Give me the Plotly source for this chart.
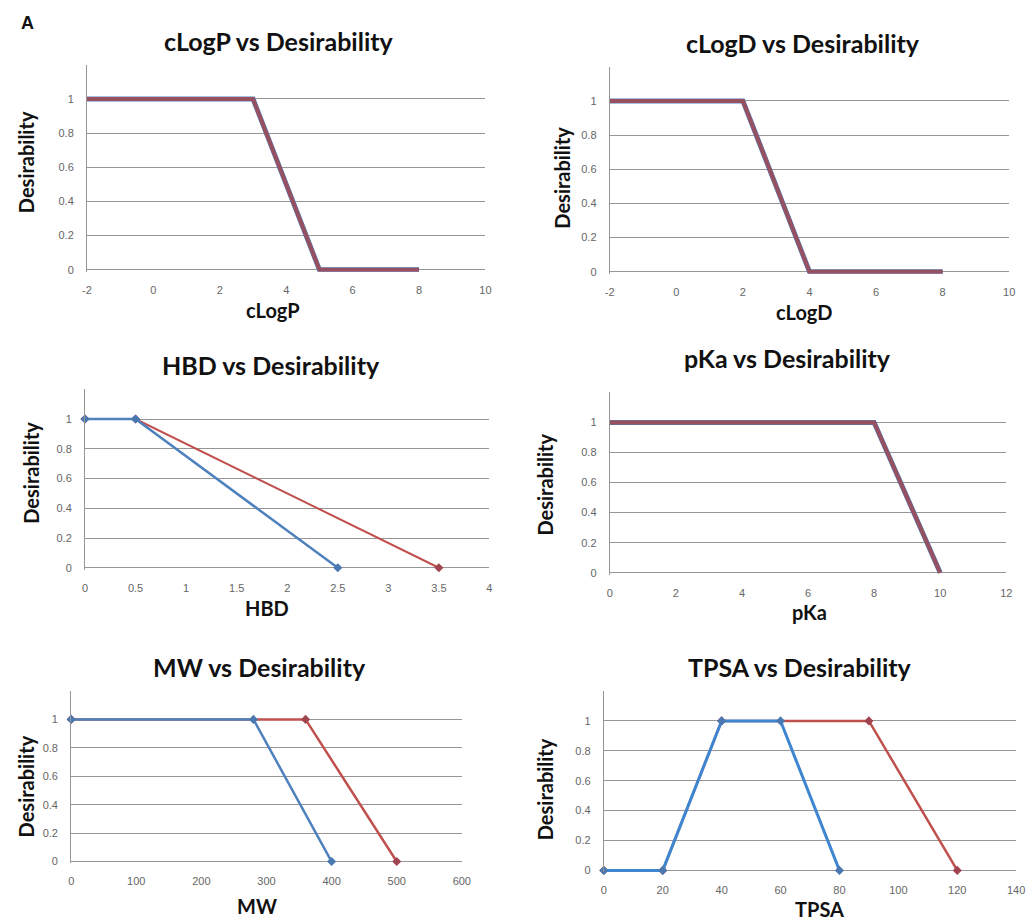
import plotly.graph_objects as go

# Page body has an 8px margin: draw on a canvas placed at (8, 8) that reaches the window edge
W, H = 1028, 915
OFF = 8

# ---------------- data ----------------
clogp_x = [-2, 3, 5, 8]
clogp_blue = [1, 1, 0, 0]
clogp_red = [1, 1, 0, 0]

clogd_x = [-2, 2, 4, 8]
clogd_blue = [1, 1, 0, 0]
clogd_red = [1, 1, 0, 0]

hbd_blue_x = [0, 0.5, 2.5]
hbd_blue_y = [1, 1, 0]
hbd_red_x = [0, 0.5, 3.5]
hbd_red_y = [1, 1, 0]

pka_x = [0, 6, 8, 10]
pka_blue = [1, 1, 1, 0]
pka_red = [1, 1, 1, 0]

mw_blue_x = [0, 280, 400]
mw_blue_y = [1, 1, 0]
mw_red_x = [0, 360, 500]
mw_red_y = [1, 1, 0]

tpsa_blue_x = [0, 20, 40, 60, 80]
tpsa_blue_y = [0, 0, 1, 1, 0]
tpsa_red_x = [0, 20, 40, 90, 120]
tpsa_red_y = [0, 0, 1, 1, 0]

y_ticks = [0, 0.2, 0.4, 0.6, 0.8, 1, 1.2]
y_ticktext = ["0", "0.2", "0.4", "0.6", "0.8", "1", ""]

logx_ticks = [-2, 0, 2, 4, 6, 8, 10]
logx_text = ["-2", "0", "2", "4", "6", "8", "10"]
hbd_ticks = [0, 0.5, 1, 1.5, 2, 2.5, 3, 3.5, 4]
hbd_text = ["0", "0.5", "1", "1.5", "2", "2.5", "3", "3.5", "4"]
pka_ticks = [0, 2, 4, 6, 8, 10, 12]
mw_ticks = [0, 100, 200, 300, 400, 500, 600]
tpsa_ticks = [0, 20, 40, 60, 80, 100, 120, 140]

BLUE = "#4F81BD"
RED = "#C0504D"
MAUVE = "#97505F"

# panel layout (screen pixels): title, title centre, x-title, x-title centre,
# y-title centre, x ticks, x range, plot box [left, right, top, bottom]
panels = [
    ("cLogP vs Desirability", (278, 41), "cLogP", (272, 311), (21, 163),
     logx_ticks, logx_text, [-2, 10], [83, 487, 65, 273]),
    ("cLogD vs Desirability", (809, 43), "cLogD", (810, 313), (565, 178),
     logx_ticks, logx_text, [-2, 10], [613, 1018, 67, 275]),
    ("HBD vs Desirability", (270, 367), "HBD", (266, 611), (26, 475),
     hbd_ticks, hbd_text, [0, 4], [81, 491, 391, 572]),
    ("pKa vs Desirability", (793, 360), "pKa", (815, 615), (547, 487),
     pka_ticks, [str(v) for v in pka_ticks], [0, 12], [613, 1015, 394, 577]),
    ("MW vs Desirability", (258, 670), "MW", (255, 910), (21, 790),
     mw_ticks, [str(v) for v in mw_ticks], [0, 600], [67, 463, 694, 867]),
    ("TPSA vs Desirability", (806, 670), "TPSA", (826, 913), (547, 793),
     tpsa_ticks, [str(v) for v in tpsa_ticks], [0, 140], [607, 1025, 694, 876]),
]

fig = go.Figure()


def px(x):
    return (x - OFF) / W


def py(y):
    return 1 - (y - OFF) / H


def add_line(i, x, y, color, width, markers=False, mcolor=None):
    ax = "" if i == 0 else str(i + 1)
    fig.add_trace(go.Scatter(
        x=x, y=y, mode="lines+markers" if markers else "lines",
        line=dict(color=color, width=width),
        marker=dict(symbol="diamond", size=7, color=mcolor or color),
        xaxis="x" + ax, yaxis="y" + ax, showlegend=False, cliponaxis=False,
        hoverinfo="skip",
    ))


# thick overlapping lines (no markers)
add_line(0, clogp_x, clogp_blue, BLUE, 5)
add_line(0, clogp_x, clogp_red, MAUVE, 4)
add_line(1, clogd_x, clogd_blue, BLUE, 5)
add_line(1, clogd_x, clogd_red, MAUVE, 4)
add_line(3, pka_x, pka_blue, BLUE, 5)
add_line(3, pka_x, pka_red, MAUVE, 4)

# thin lines with diamond markers
add_line(2, hbd_red_x, hbd_red_y, RED, 2, True, "#A04450")
add_line(2, hbd_blue_x, hbd_blue_y, BLUE, 2.5, True, "#4A78B0")
add_line(4, mw_red_x, mw_red_y, RED, 2.5, True, "#A04450")
add_line(4, mw_blue_x, mw_blue_y, BLUE, 2.5, True, "#4A78B0")
add_line(5, tpsa_red_x, tpsa_red_y, RED, 2.5, True, "#A04450")
add_line(5, tpsa_blue_x, tpsa_blue_y, "#3F86D0", 3, True, "#4A78B0")

tick_font = dict(family="Liberation Sans", size=11, color="#666666")
title_font = dict(family="Lato", size=25, color="#111111")
axis_font = dict(family="Lato", size=20, color="#111111")

layout = dict(
    width=W, height=H,
    margin=dict(l=0, r=0, t=0, b=0),
    paper_bgcolor="white", plot_bgcolor="white",
    annotations=[], showlegend=False,
)

for i, (title, tpos, xt, xtpos, ytpos, xtv, xtt, xr, box) in enumerate(panels):
    l, r, t, b = box
    ax = "" if i == 0 else str(i + 1)
    layout["xaxis" + ax] = dict(
        domain=[px(l), px(r)], range=xr, tickvals=xtv, ticktext=xtt,
        anchor="y" + ax, showgrid=False, zeroline=False,
        showline=False, ticks="", tickfont=tick_font, fixedrange=True,
        ticklabelstandoff=10,
    )
    layout["yaxis" + ax] = dict(
        domain=[py(b), py(t)], range=[-0.012, 1.2],
        tickvals=y_ticks, ticktext=y_ticktext,
        anchor="x" + ax, showgrid=True, gridcolor="#969696", gridwidth=1,
        zeroline=False, showline=True, linecolor="#969696", linewidth=1,
        ticks="", tickfont=tick_font, ticklabelstandoff=10, fixedrange=True,
    )
    layout["annotations"].append(dict(
        text="<b>%s</b>" % title, x=px(tpos[0]), y=py(tpos[1]),
        xref="paper", yref="paper",
        showarrow=False, font=title_font, xanchor="center", yanchor="middle"))
    layout["annotations"].append(dict(
        text="<b>%s</b>" % xt, x=px(xtpos[0]), y=py(xtpos[1]),
        xref="paper", yref="paper",
        showarrow=False, font=axis_font, xanchor="center", yanchor="middle"))
    layout["annotations"].append(dict(
        text="<b>Desirability</b>", x=px(ytpos[0]), y=py(ytpos[1]),
        xref="paper", yref="paper", textangle=-90,
        showarrow=False, font=axis_font, xanchor="center", yanchor="middle"))

layout["annotations"].append(dict(
    text="<b>A</b>", x=px(23), y=py(23), xref="paper", yref="paper",
    showarrow=False, font=dict(family="Liberation Sans", size=18, color="#111111"),
    xanchor="center", yanchor="middle"))

fig.update_layout(**layout)
fig.write_html("out.html")
